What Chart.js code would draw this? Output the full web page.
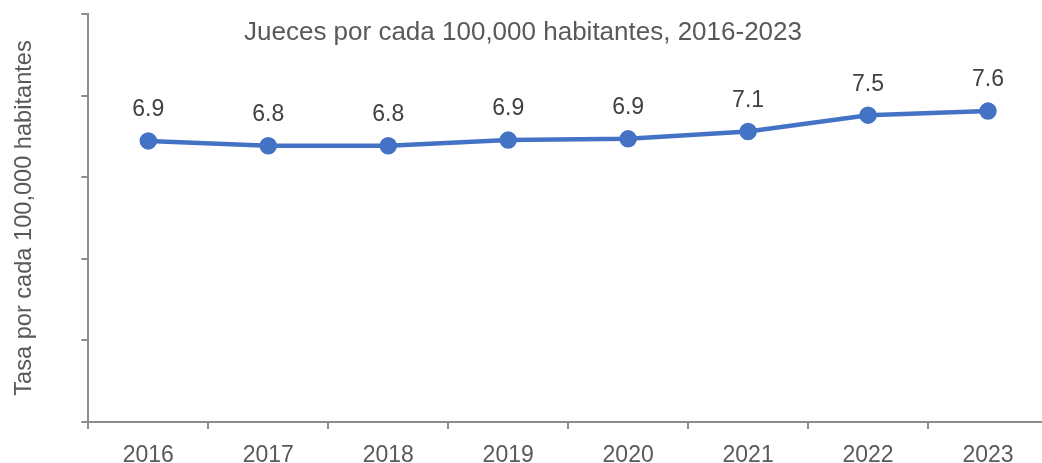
<!DOCTYPE html>
<html>
<head>
<meta charset="utf-8">
<script src="https://cdn.jsdelivr.net/npm/chart.js@4"></script>
<style>
  html, body { margin: 0; padding: 0; overflow: hidden; background: #ffffff; width: 1042px; height: 463px; }
  #wrap { position: absolute; left: 0; top: 0; width: 1059px; height: 487px; }
</style>
</head>
<body>
<div id="wrap"><canvas id="c" width="1059" height="487"></canvas></div>
<script>
const years = ['2016', '2017', '2018', '2019', '2020', '2021', '2022', '2023'];
const jueces = [6.89, 6.77, 6.77, 6.91, 6.94, 7.12, 7.52, 7.62];
const chartTitle = 'Jueces por cada 100,000 habitantes, 2016-2023';
const yTitle = 'Tasa por cada 100,000 habitantes';

const FONT = "'Liberation Sans', Arial, sans-serif";
const axisColor = '#8c8c8c';

const titlePlugin = {
  id: 'freeTitle',
  afterDraw(chart) {
    const ctx = chart.ctx;
    ctx.save();
    ctx.font = '26px ' + FONT;
    ctx.fillStyle = '#595959';
    ctx.textAlign = 'center';
    ctx.textBaseline = 'middle';
    ctx.fillText(chartTitle, 523, 33);
    ctx.restore();
  }
};

const valueLabels = {
  id: 'valueLabels',
  afterDatasetsDraw(chart) {
    const ctx = chart.ctx;
    const meta = chart.getDatasetMeta(0);
    ctx.save();
    ctx.font = '23px ' + FONT;
    ctx.fillStyle = '#404040';
    ctx.textAlign = 'center';
    ctx.textBaseline = 'middle';
    meta.data.forEach((pt, i) => {
      ctx.fillText(jueces[i].toFixed(1), pt.x, pt.y - 31);
    });
    ctx.restore();
  }
};

new Chart(document.getElementById('c'), {
  type: 'line',
  data: {
    labels: years,
    datasets: [{
      data: jueces,
      borderColor: '#4472C4',
      backgroundColor: '#4472C4',
      borderWidth: 4.5,
      pointRadius: 6.5,
      pointBackgroundColor: '#4472C4',
      pointBorderColor: '#4472C4',
      tension: 0,
      clip: false
    }]
  },
  options: {
    responsive: false,
    animation: false,
    layout: { padding: { top: 14, left: 6, right: 2, bottom: 5 } },
    plugins: {
      legend: { display: false },
      title: { display: false },
      tooltip: { enabled: false }
    },
    scales: {
      x: {
        offset: true,
        grid: {
          offset: true,
          drawOnChartArea: false,
          drawTicks: true,
          tickLength: 7,
          color: axisColor,
          lineWidth: 2
        },
        border: { display: true, color: axisColor, width: 2 },
        ticks: {
          color: '#595959',
          padding: 15,
          font: { family: FONT, size: 23, lineHeight: 1 },
          maxRotation: 0
        }
      },
      y: {
        min: 0,
        max: 10,
        ticks: { display: false, stepSize: 2 },
        grid: {
          drawOnChartArea: false,
          drawTicks: true,
          tickLength: 7,
          color: axisColor,
          lineWidth: 2
        },
        border: { display: true, color: axisColor, width: 2 },
        title: {
          display: true,
          text: yTitle,
          color: '#595959',
          font: { family: FONT, size: 23.6, lineHeight: 1.2 },
          padding: { top: 4, bottom: 43 }
        }
      }
    }
  },
  plugins: [titlePlugin, valueLabels]
});
</script>
</body>
</html>
